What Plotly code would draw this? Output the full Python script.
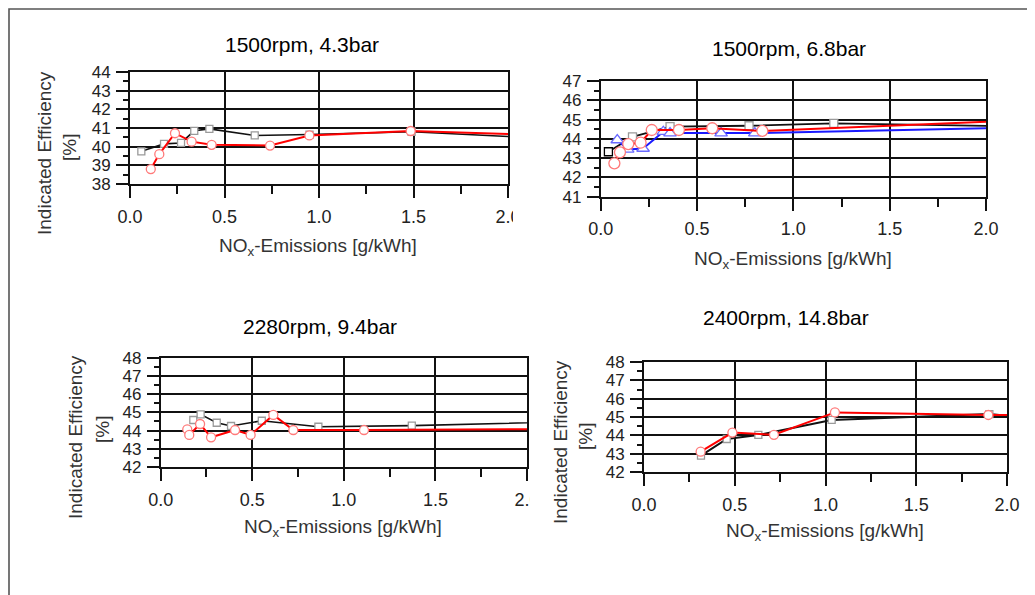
import plotly.graph_objects as go

# page is 1035x595; the html body adds an 8px margin, so the figure is a bit smaller
PAGE_W, PAGE_H = 1035, 595
OFF = 8
W, H = PAGE_W - OFF, PAGE_H - OFF
FONT = "Liberation Sans, Arial, sans-serif"

# ---------------- data ----------------
# Panel 1: 1500rpm, 4.3bar
p1_sq_x = [0.06, 0.18, 0.27, 0.34, 0.42, 0.66, 0.95, 1.49, 2.5]
p1_sq_y = [39.75, 40.15, 40.2, 40.85, 40.95, 40.6, 40.65, 40.8, 40.3]
p1_ci_x = [0.11, 0.155, 0.238, 0.326, 0.432, 0.741, 0.949, 1.485, 2.5]
p1_ci_y = [38.8, 39.6, 40.72, 40.27, 40.1, 40.06, 40.6, 40.84, 40.53]

# Panel 2: 1500rpm, 6.8bar
p2_sq_x = [0.04, 0.165, 0.36, 0.77, 1.21, 2.5]
p2_sq_y = [43.33, 44.1, 44.63, 44.68, 44.8, 44.6]
p2_tr_x = [0.086, 0.14, 0.22, 0.325, 0.36, 0.625, 0.80, 2.5]
p2_tr_y = [43.94, 43.45, 43.5, 44.37, 44.3, 44.3, 44.3, 44.65]
p2_ci_x = [0.071, 0.10, 0.143, 0.207, 0.265, 0.406, 0.579, 0.839, 2.5]
p2_ci_y = [42.73, 43.3, 43.73, 43.8, 44.46, 44.46, 44.55, 44.41, 45.1]

# Panel 3: 2280rpm, 9.4bar
p3_sq_x = [0.178, 0.218, 0.306, 0.384, 0.552, 0.861, 1.371, 2.5]
p3_sq_y = [44.58, 44.89, 44.43, 44.25, 44.54, 44.21, 44.27, 44.55]
p3_ci_x = [0.145, 0.156, 0.215, 0.275, 0.406, 0.491, 0.615, 0.724, 1.11, 2.5]
p3_ci_y = [44.07, 43.76, 44.36, 43.63, 44.03, 43.76, 44.86, 44.03, 44.03, 44.1]

# Panel 4: 2400rpm, 14.8bar
p4_sq_x = [0.314, 0.456, 0.63, 1.034, 1.903, 2.5]
p4_sq_y = [42.89, 43.8, 44.02, 44.84, 45.16, 44.6]
p4_ci_x = [0.312, 0.487, 0.716, 1.052, 1.897, 2.5]
p4_ci_y = [43.11, 44.15, 44.03, 45.25, 45.11, 45.13]

titles = ["1500rpm, 4.3bar", "1500rpm, 6.8bar", "2280rpm, 9.4bar", "2400rpm, 14.8bar"]
x_title = "NO<sub>x</sub>-Emissions [g/kWh]"
y_title_1 = "Indicated Efficiency"
y_title_2 = "[%]"
y_ranges = [[38, 44], [41, 47], [42, 48], [42, 48]]


def fx(p):  # page pixel x -> paper fraction
    return (p - OFF) / W


def fy(p):  # page pixel y -> paper fraction
    return 1 - (p - OFF) / H


# ---------------- figure ----------------
fig = go.Figure()


def add(xs, ys, sym, size, lc, mlc, ax, lw=2.0):
    fig.add_trace(go.Scatter(
        x=xs, y=ys, mode="lines+markers",
        xaxis="x" + ax, yaxis="y" + ax,
        line=dict(color=lc, width=lw),
        marker=dict(symbol=sym, size=size, color="white",
                    line=dict(color=mlc, width=1.3)),
        showlegend=False, hoverinfo="skip"))


BLACK, RED, BLUE = "#111111", "#ff0000", "#1a1aff"
SQ_EDGE, CI_EDGE, TR_EDGE = "#9a9a9a", "#ff7a7a", "#6a6aff"

add(p1_sq_x, p1_sq_y, "square", 7, BLACK, SQ_EDGE, "", 1.6)
add(p1_ci_x, p1_ci_y, "circle", 9, RED, CI_EDGE, "")

add(p2_sq_x, p2_sq_y, "square", 8, BLACK,
    ["#000000"] + [SQ_EDGE] * (len(p2_sq_x) - 1), "2", 1.8)
add(p2_tr_x, p2_tr_y, "triangle-up", 11, BLUE, TR_EDGE, "2")
add(p2_ci_x, p2_ci_y, "circle", 11, RED, CI_EDGE, "2")

add(p3_sq_x, p3_sq_y, "square", 7, BLACK, SQ_EDGE, "3", 1.6)
add(p3_ci_x, p3_ci_y, "circle", 9, RED, CI_EDGE, "3")

add(p4_sq_x, p4_sq_y, "square", 7, BLACK, SQ_EDGE, "4", 2.0)
add(p4_ci_x, p4_ci_y, "circle", 9, RED, CI_EDGE, "4")

# plot-area boxes in page pixels: (left, right, top, bottom)
boxes = [(130, 508, 72, 184), (600.7, 986, 81, 196.7),
         (160.7, 527, 357.7, 467), (644, 1007, 362, 472)]

layout = dict(
    width=W, height=H,
    margin=dict(l=0, r=0, t=0, b=0, pad=0, autoexpand=False),
    paper_bgcolor="white", plot_bgcolor="white",
    font=dict(family=FONT, color="#222222"),
)

for i, (l, r, t, b) in enumerate(boxes):
    sfx = "" if i == 0 else str(i + 1)
    common = dict(
        showgrid=True, gridcolor="#111111", gridwidth=1.8,
        showline=True, linecolor="#111111", linewidth=1.8, mirror=True,
        ticks="outside", tickcolor="#111111", tickwidth=1.6,
        zeroline=False, automargin=False,
        fixedrange=True,
    )
    layout["xaxis" + sfx] = dict(
        common, domain=[fx(l), fx(r)], anchor="y" + sfx, range=[0, 2],
        tick0=0, dtick=0.5, tickformat=".1f", ticklen=12,
        ticklabelstandoff=3,
        tickfont=dict(size=18, color="#222222", family=FONT),
        minor=dict(dtick=0.25, ticks="outside", ticklen=8, tickwidth=1.6,
                   tickcolor="#111111", showgrid=False))
    layout["yaxis" + sfx] = dict(
        common, domain=[fy(b), fy(t)], anchor="x" + sfx,
        range=y_ranges[i], dtick=1, ticklen=12, ticklabelstandoff=2,
        tickfont=dict(size=17, color="#222222", family=FONT),
        minor=dict(dtick=0.5, ticks="outside", ticklen=5, tickwidth=1.6,
                   tickcolor="#111111", showgrid=False))

fig.update_layout(**layout)

# ---------------- text ----------------
def ann(text, x, y, size, color="#111111", angle=0):
    fig.add_annotation(text=text, x=fx(x), y=fy(y), xref="paper", yref="paper",
                       xanchor="center", yanchor="middle", showarrow=False,
                       textangle=angle, font=dict(size=size, color=color, family=FONT))

title_pos = [(302, 45), (789, 48), (320, 326), (786, 317)]
for (x, y), txt in zip(title_pos, titles):
    ann(txt, x, y, 21, "#000000")

xt_pos = [(318, 247), (793, 260), (343, 528), (825, 532)]
for x, y in xt_pos:
    ann(x_title, x, y, 19, "#333333")

yt_pos = [((45, 153), (70, 148)), ((75, 437), (102, 430)), ((560, 442), (585, 437))]
for (a, b) in yt_pos:
    ann(y_title_1, a[0], a[1], 19, "#333333", -90)
    ann(y_title_2, b[0], b[1], 19, "#333333", -90)

# ---------------- shapes: outer frame and image crops ----------------
shapes = [
    dict(type="rect", xref="paper", yref="paper", x0=fx(9), x1=1.2,
         y0=-0.2, y1=fy(9), line=dict(color="#555555", width=1.6),
         fillcolor="rgba(0,0,0,0)", layer="below"),
    # crops that cut the right-most tick labels / the clipped title
    dict(type="rect", xref="paper", yref="paper", x0=fx(513), x1=fx(545),
         y0=fy(290), y1=fy(20), line=dict(width=0),
         fillcolor="white", layer="above"),
    dict(type="rect", xref="paper", yref="paper", x0=fx(530), x1=fx(548),
         y0=fy(580), y1=fy(300), line=dict(width=0),
         fillcolor="white", layer="above"),
    dict(type="rect", xref="paper", yref="paper", x0=fx(225), x1=fx(420),
         y0=fy(348), y1=fy(331), line=dict(width=0),
         fillcolor="white", layer="above"),
]
fig.update_layout(shapes=shapes)

fig.write_html("out.html")
